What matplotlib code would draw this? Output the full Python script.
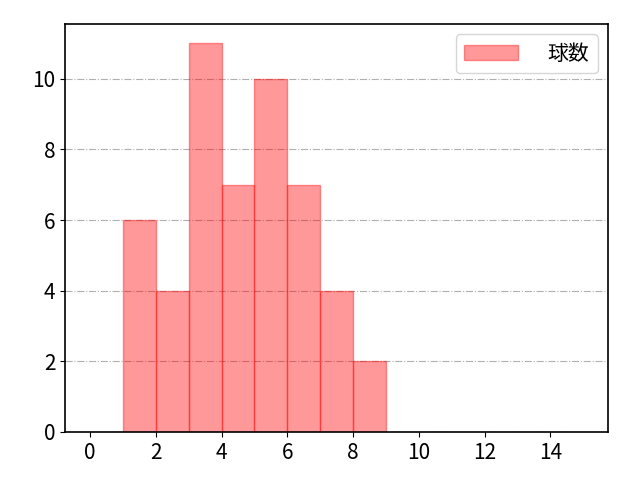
import numpy as np
import matplotlib
matplotlib.use("Agg")
import matplotlib.pyplot as plt

plt.rcParams["font.family"] = ["Noto Sans CJK JP", "DejaVu Sans"]

# pitch-count histogram: bin edges and counts
bin_edges = np.arange(0, 16)
counts = [0, 6, 4, 11, 7, 10, 7, 4, 2, 0, 0, 0, 0, 0, 0]
label = "球数"

fig, ax = plt.subplots(figsize=(6.4, 4.8), dpi=100)
ax.hist(bin_edges[:-1], bins=bin_edges, weights=counts,
        color="red", alpha=0.4, edgecolor="red", label=label)
ax.grid(axis="y", linestyle="-.", color="#b0b0b0")
ax.set_axisbelow(True)
ax.set_xticks(np.arange(0, 15, 2))
ax.tick_params(labelsize=15)
ax.legend(fontsize=15, loc="upper right", handlelength=2.6, handletextpad=1.4)
for s in ax.spines.values():
    s.set_linewidth(1.2)

fig.subplots_adjust(left=0.102, right=0.95, top=0.95, bottom=0.1)
fig.savefig("out.png")
